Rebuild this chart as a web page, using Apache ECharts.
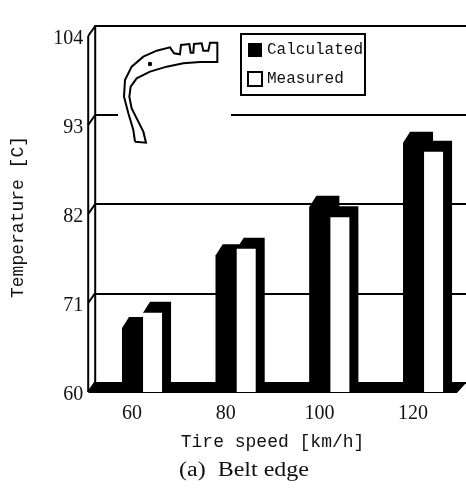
<!DOCTYPE html>
<html><head><meta charset="utf-8">
<style>html,body{margin:0;padding:0;background:#fff}#c{width:466px;height:489px}</style>
<script src="https://cdn.jsdelivr.net/npm/echarts@6/dist/echarts.min.js"></script>
</head><body><div id="c"></div>
<script>
const categories = ['60','80','100','120'];
const calculated = [67.9, 76.9, 82.9, 90.8];
const measured = [69.8, 77.7, 81.6, 89.7];
const yMin = 60, yMax = 104, yStep = 11;
const yTicks = [60, 71, 82, 93, 104];

const SERIF = '"Liberation Serif"';
const MONO = '"Liberation Mono"';
const DX = 9, DY = 11;

function barRender(x0, x1, white) {
  return function (params, api) {
    const p = api.coord([api.value(0), api.value(1)]);
    const b = api.coord([api.value(0), yMin]);
    const L = p[0] + x0, R = p[0] + x1, T = p[1], B = b[1];
    const extr = { type: 'polygon', shape: { points: [
      [L, B], [L, T], [L + DX - 2, T - DY], [R + DX, T - DY], [R + DX, B]
    ] }, style: { fill: '#000' } };
    const face = { type: 'rect', shape: { x: L, y: T, width: R - L, height: B - T },
      style: { fill: white ? '#fff' : '#000' } };
    return { type: 'group', children: [extr, face] };
  };
}

function frameRender(params, api) {
  const cs = params.coordSys;
  const t = api.coord([0, api.value(0)]);
  const y = t[1];
  const lx = cs.x + 3;
  const kids = [{ type: 'line', shape: { x1: lx, y1: y, x2: lx + 7, y2: y - DY + 1 },
    style: { stroke: '#000', lineWidth: 2 } }];
  if (params.dataIndex === 0) {
    const by = cs.y + cs.height, rx = cs.x + cs.width - 3;
    kids.push({ type: 'polygon', shape: { points: [[lx, by + 1], [lx + 7, by - 10], [rx + 10, by - 10], [rx, by + 1]] }, style: { fill: '#000' } });
    kids.push({ type: 'line', shape: { x1: lx, y1: cs.y, x2: lx, y2: by }, style: { stroke: '#000', lineWidth: 2 } });
    kids.push({ type: 'line', shape: { x1: lx + 7, y1: cs.y - 11, x2: lx + 7, y2: by - 10 }, style: { stroke: '#000', lineWidth: 2 } });
  }
  return { type: 'group', children: kids };
}

const tire = [[405,425],[400,390],[385,340],[372,290],[375,240],[395,200],[430,170],[470,152],[510,142],[522,160],[540,163],[543,135],[568,132],[572,158],[580,158],[582,132],[605,130],[610,152],[625,152],[630,128],[652,128],[652,186],[600,186],[550,190],[500,200],[450,215],[410,235],[392,260],[388,290],[395,325],[415,365],[430,395],[438,428],[405,425]].map(p => [p[0] / 3, p[1] / 3]);

const chart = echarts.init(document.getElementById('c'));
chart.setOption({
  animation: false,
  backgroundColor: '#fff',
  grid: [
    { left: 85.2, top: 36, width: 374.7, height: 356 },
    { left: 95, top: 25.5, right: 0, height: 357 },
    { left: 85.2, top: 39, width: 374.7, height: 356 }
  ],
  xAxis: [
    { type: 'category', gridIndex: 0, data: categories,
      axisLine: { show: false }, axisTick: { show: false },
      axisLabel: { fontFamily: SERIF, fontSize: 20, color: '#111', margin: 12 },
      name: 'Tire speed [km/h]', nameLocation: 'middle', nameGap: 41,
      nameTextStyle: { fontFamily: MONO, fontSize: 18, color: '#111' } },
    { type: 'category', gridIndex: 1, show: false, data: categories },
    { type: 'category', gridIndex: 2, show: false, data: categories }
  ],
  yAxis: [
    { type: 'value', gridIndex: 0, min: yMin, max: yMax, interval: yStep, show: false },
    { type: 'value', gridIndex: 1, min: yMin, max: yMax, interval: yStep,
      axisLine: { show: false }, axisTick: { show: false }, axisLabel: { show: false },
      splitLine: { show: true, lineStyle: { color: '#000', width: 2 } } },
    { type: 'value', gridIndex: 2, min: yMin, max: yMax, interval: yStep,
      splitLine: { show: false }, axisLine: { show: false }, axisTick: { show: false },
      axisLabel: { fontFamily: SERIF, fontSize: 20, color: '#111', margin: 2 },
      name: 'Temperature [C]', nameLocation: 'middle', nameGap: 58, nameRotate: 90,
      nameTextStyle: { fontFamily: MONO, fontSize: 18, color: '#111' } }
  ],
  legend: {
    orient: 'vertical', left: 241, top: 34, data: [
      { name: 'Calculated', icon: 'rect', itemStyle: { color: '#000', borderWidth: 0 } },
      { name: 'Measured', icon: 'rect', itemStyle: { color: '#fff', borderColor: '#000', borderWidth: 2 } }
    ],
    itemWidth: 14, itemHeight: 14, itemGap: 13, padding: [8, 2, 8, 6],
    borderColor: '#000', borderWidth: 2, backgroundColor: '#fff',
    selectedMode: false,
    textStyle: { fontFamily: MONO, fontSize: 16, color: '#111' }
  },
  graphic: [
    { type: 'rect', z: 3, shape: { x: 118, y: 40, width: 113, height: 110 }, style: { fill: '#fff' } },
    { type: 'polyline', z: 4, shape: { points: tire }, style: { fill: 'none', stroke: '#000', lineWidth: 2 } },
    { type: 'circle', z: 4, shape: { cx: 150, cy: 64, r: 2.2 }, style: { fill: '#000' } },
    { type: 'text', z: 4, x: 179, y: 471, scaleX: 1.2,
      style: { text: '(a)  Belt edge', font: '20px "Liberation Serif"', fill: '#111', verticalAlign: 'middle' } }
  ],
  series: [
    { name: 'frame', type: 'custom', xAxisIndex: 0, yAxisIndex: 0, z: 2, silent: true,
      data: yTicks.map(v => [v]), encode: { y: 0 }, renderItem: frameRender },
    { name: 'Calculated', type: 'custom', xAxisIndex: 0, yAxisIndex: 0, z: 5,
      itemStyle: { color: '#000' }, encode: { x: 0, y: 1 },
      data: categories.map((c, i) => [i, calculated[i]]), renderItem: barRender(-10, 11, false) },
    { name: 'Measured', type: 'custom', xAxisIndex: 0, yAxisIndex: 0, z: 6,
      itemStyle: { color: '#fff', borderColor: '#000', borderWidth: 2 }, encode: { x: 0, y: 1 },
      data: categories.map((c, i) => [i, measured[i]]), renderItem: barRender(11, 30, true) }
  ]
});
</script></body></html>
